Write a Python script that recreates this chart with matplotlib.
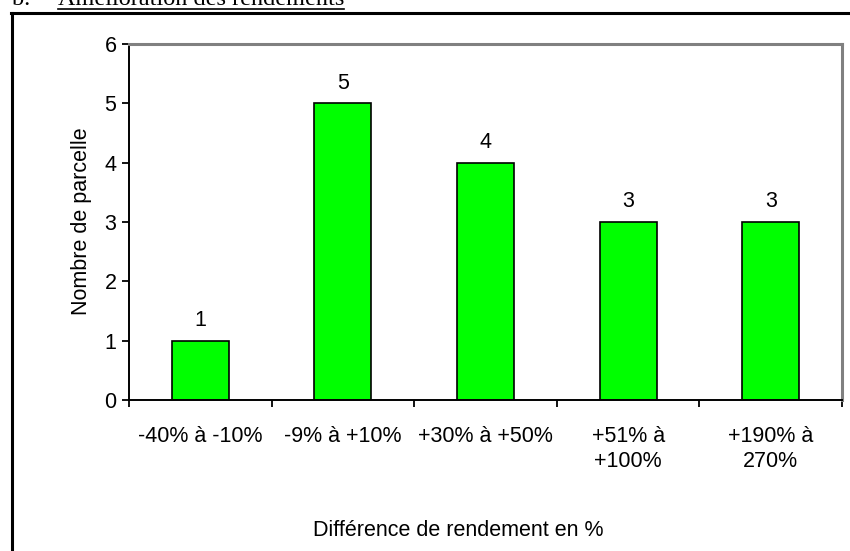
import matplotlib
matplotlib.use("Agg")
from matplotlib import pyplot as plt
from matplotlib.lines import Line2D

categories = ["-40% à -10%", "-9% à +10%", "+30% à +50%", "+51% à\n+100%", "+190% à\n270%"]
parcelles = [1, 5, 4, 3, 3]

plt.rcParams["font.family"] = ["Liberation Sans", "DejaVu Sans"]
fontsize = 15.5
W, H = 850, 551

fig = plt.figure(figsize=(W / 100, H / 100), dpi=100)
ax = fig.add_axes([129 / W, 1 - 400 / H, (842 - 129) / W, (400 - 44) / H])

x = list(range(len(categories)))
bars = ax.bar(x, parcelles, width=0.4, color="#00ff00", edgecolor="black", linewidth=1.2, zorder=2)
for xi, v in zip(x, parcelles):
    ax.annotate(str(v), (xi, v), xytext=(0, 10.5), textcoords="offset points",
                ha="center", va="baseline", fontsize=fontsize)

ax.set_xlim(-0.5, len(categories) - 0.5)
ax.set_ylim(0, 6)
ax.set_yticks(range(7))
ax.set_xticks(x)
ax.set_xticklabels(categories, fontsize=fontsize, linespacing=1.25)
ax.set_xticks([i + 0.5 for i in range(-1, len(categories))], minor=True)
ax.tick_params(axis="x", which="major", length=0, pad=19)
ax.tick_params(axis="x", which="minor", length=5, width=1.3, direction="out")
ax.tick_params(axis="y", length=5, width=1.3, direction="out", labelsize=fontsize, pad=4)

for side in ("left", "bottom"):
    ax.spines[side].set_linewidth(1.4)
    ax.spines[side].set_color("black")
for side in ("top", "right"):
    ax.spines[side].set_linewidth(2.2)
    ax.spines[side].set_color("#808080")

fig.text(81 / W, 1 - 221 / H, "Nombre de parcelle", rotation=90, ha="center", va="center", fontsize=fontsize)
fig.text(458 / W, 1 - 530 / H, "Différence de rendement en %", ha="center", va="center", fontsize=fontsize)

# frame around the chart, open at the right and bottom
fig.add_artist(Line2D([12 / W, 12 / W], [0, 1 - 12.5 / H], color="black", linewidth=2.2))
fig.add_artist(Line2D([11 / W, 1], [1 - 12.5 / H, 1 - 12.5 / H], color="black", linewidth=2.2))

# section heading above the frame
serif = ["Liberation Serif", "DejaVu Serif"]
fig.text(12 / W, 1 - 5 / H, "b.", family=serif, fontsize=17.5, va="baseline")
heading = fig.text(58 / W, 1 - 5 / H, "Amélioration des rendements", family=serif, fontsize=17.5, va="baseline")
fig.canvas.draw()
bb = heading.get_window_extent()
fig.add_artist(Line2D([bb.x0 / W, bb.x1 / W], [1 - 8.5 / H, 1 - 8.5 / H], color="black", linewidth=1.2))

fig.savefig("out.png", dpi=100)
